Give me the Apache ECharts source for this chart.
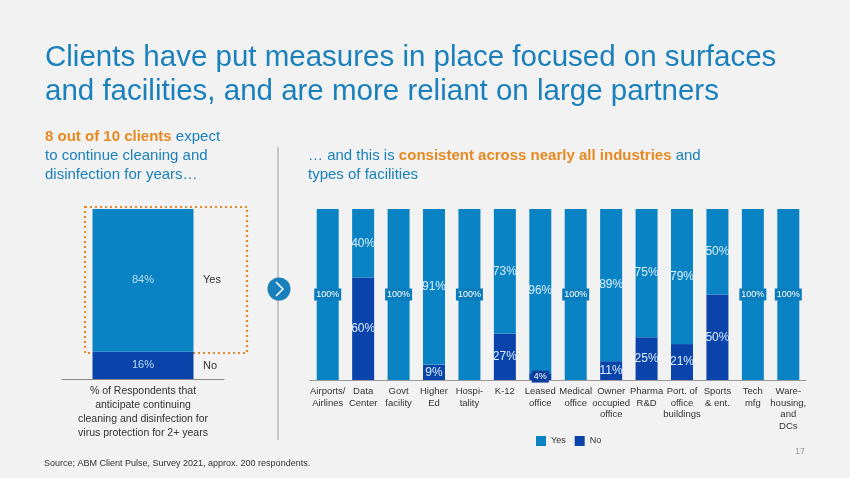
<!DOCTYPE html>
<html><head><meta charset="utf-8">
<script src="https://cdn.jsdelivr.net/npm/echarts@6/dist/echarts.min.js"></script>
<style>html,body{margin:0;padding:0;background:#f2f2f2;}#c{width:850px;height:478px;}</style>
</head><body><div id="c"></div>
<script>
var categories = ["Airports/\nAirlines","Data\nCenter","Govt\nfacility","Higher\nEd","Hospi-\ntality","K-12","Leased\noffice","Medical\noffice","Owner\noccupied\noffice","Pharma\nR&D","Port. of\noffice\nbuildings","Sports\n& ent.","Tech\nmfg","Ware-\nhousing,\nand\nDCs"];
var yesValues = [100,40,100,91,100,73,96,100,89,75,79,50,100,100];
var noValues  = [0,60,0,9,0,27,4,0,11,25,21,50,0,0];
var overallYes = [84];
var overallNo = [16];

var YES = '#0a83c4', NO = '#0a44aa', BLUE = '#1a80bb', ORANGE = '#e58a22', FONT = 'Liberation Sans, Arial, sans-serif';
var chart = echarts.init(document.getElementById('c'));

function boxLabel(color){
  return {show:true, position:'inside', fontSize:9, color:'#ffffff', backgroundColor:color, padding:[2,2,1,2], fontFamily:FONT};
}
var yesData = yesValues.map(function(v){
  var d = {value:v};
  if (v === 100) d.label = boxLabel('#0a7cbc');
  return d;
});
var noData = noValues.map(function(v){
  var d = {value:v};
  if (v === 0) d.label = {show:false};
  else if (v < 6) d.label = boxLabel('#0a3f9e');
  return d;
});

chart.setOption({
  backgroundColor:'#f2f2f2',
  animation:false,
  textStyle:{fontFamily:FONT},
  grid:[
    {left:62, width:162, top:209, height:170},
    {left:310, width:496, top:209, height:171}
  ],
  xAxis:[
    {gridIndex:0, type:'category', data:[''], axisTick:{show:false}, axisLabel:{show:false}, axisLine:{lineStyle:{color:'#8a8a8a'}}},
    {gridIndex:1, type:'category', data:categories, axisTick:{show:false},
     axisLine:{lineStyle:{color:'#9a9a9a'}},
     axisLabel:{interval:0, fontSize:9.5, color:'#333', lineHeight:11.5, margin:6, fontFamily:FONT}}
  ],
  yAxis:[
    {gridIndex:0, type:'value', min:0, max:100, show:false},
    {gridIndex:1, type:'value', min:0, max:100, show:false}
  ],
  legend:{data:['Yes','No'], left:531, top:431, itemWidth:10, itemHeight:10, itemGap:9, icon:'rect',
    textStyle:{fontSize:9, color:'#333', fontFamily:FONT}},
  series:[
    {name:'No', type:'bar', xAxisIndex:0, yAxisIndex:0, stack:'a', data:overallNo, barWidth:101,
     itemStyle:{color:NO}, label:{show:true, position:'inside', formatter:'{c}%', color:'#b8def2', fontSize:11, fontFamily:FONT}},
    {name:'Yes', type:'bar', xAxisIndex:0, yAxisIndex:0, stack:'a', data:overallYes, barWidth:101,
     itemStyle:{color:YES}, label:{show:true, position:'inside', formatter:'{c}%', color:'#b8def2', fontSize:11, fontFamily:FONT}},
    {name:'No', type:'bar', xAxisIndex:1, yAxisIndex:1, stack:'b', data:noData, barWidth:22,
     itemStyle:{color:NO}, label:{show:true, position:'inside', formatter:'{c}%', color:'#dcefff', fontSize:12, fontFamily:FONT}},
    {name:'Yes', type:'bar', xAxisIndex:1, yAxisIndex:1, stack:'b', data:yesData, barWidth:22,
     itemStyle:{color:YES}, label:{show:true, position:'inside', formatter:'{c}%', color:'#dcefff', fontSize:12, fontFamily:FONT}}
  ],
  graphic:[
    {type:'text', x:45, y:57.5, style:{text:'Clients have put measures in place focused on surfaces', fill:BLUE, fontSize:29.5, verticalAlign:'middle', fontFamily:FONT}},
    {type:'text', x:45, y:91.5, style:{text:'and facilities, and are more reliant on large partners', fill:BLUE, fontSize:29.5, verticalAlign:'middle', fontFamily:FONT}},
    {type:'text', x:45, y:136.5, style:{rich:{o:{fill:ORANGE, fontWeight:'bold', fontSize:15, fontFamily:FONT}, b:{fill:BLUE, fontSize:15, fontFamily:FONT}}, text:'{o|8 out of 10 clients}{b| expect}', fontSize:15, verticalAlign:'middle'}},
    {type:'text', x:45, y:155.5, style:{text:'to continue cleaning and', fill:BLUE, fontSize:15, verticalAlign:'middle', fontFamily:FONT}},
    {type:'text', x:45, y:174.5, style:{text:'disinfection for years…', fill:BLUE, fontSize:15, verticalAlign:'middle', fontFamily:FONT}},
    {type:'text', x:308, y:155.5, style:{rich:{o:{fill:ORANGE, fontWeight:'bold', fontSize:15, fontFamily:FONT}, b:{fill:BLUE, fontSize:15, fontFamily:FONT}}, text:'{b|… and this is }{o|consistent across nearly all industries}{b| and}', fontSize:15, verticalAlign:'middle'}},
    {type:'text', x:308, y:174.5, style:{text:'types of facilities', fill:BLUE, fontSize:15, verticalAlign:'middle', fontFamily:FONT}},
    {type:'line', shape:{x1:278, y1:147, x2:278, y2:440}, style:{stroke:'#9a9a9a', lineWidth:1}},
    {type:'rect', shape:{x:85, y:207, width:162, height:146}, style:{fill:'none', stroke:ORANGE, lineWidth:2.2, lineDash:[2,3]}},
    {type:'text', left:203, top:274, style:{text:'Yes', fill:'#333', fontSize:11, fontFamily:FONT}},
    {type:'text', left:203, top:360, style:{text:'No', fill:'#333', fontSize:11, fontFamily:FONT}},
    {type:'text', x:143, y:384, style:{text:'% of Respondents that\nanticipate continuing\ncleaning and disinfection for\nvirus protection for 2+ years', fill:'#333', fontSize:10.5, lineHeight:14, align:'center', fontFamily:FONT}},
    {type:'circle', shape:{cx:279, cy:289, r:11.5}, style:{fill:BLUE}},
    {type:'polyline', shape:{points:[[276,282],[283,289],[276,296]]}, style:{stroke:'#fff', lineWidth:1.5, fill:'none'}},
    {type:'text', left:44, top:459, style:{text:'Source; ABM Client Pulse, Survey 2021, approx. 200 respondents.', fill:'#333', fontSize:9, fontFamily:FONT}},
    {type:'text', left:795, top:447, style:{text:'17', fill:'#999', fontSize:9, fontFamily:FONT}}
  ]
});
</script></body></html>
